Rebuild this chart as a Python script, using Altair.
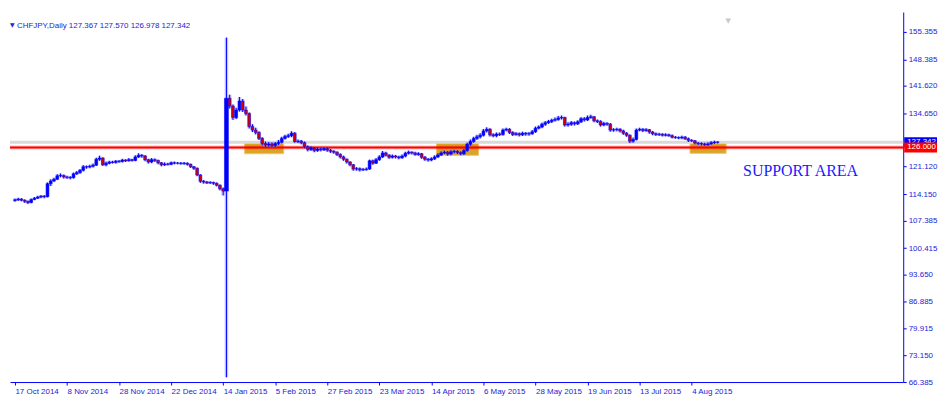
import altair as alt
import pandas as pd

# ---------------- data ----------------
closes = [
    112.7, 112.9, 112.6, 112.3, 112.0, 112.8, 113.1, 113.4, 113.6, 113.5,
    116.8, 117.5, 117.9, 118.8, 118.9, 118.5, 118.4, 118.3, 119.3, 119.6,
    120.2, 121.1, 121.0, 121.2, 121.5, 123.0, 123.3, 121.6, 122.0, 122.3,
    122.2, 122.5, 122.4, 122.8, 122.6, 122.9, 122.7, 123.6, 124.0, 123.8,
    122.9, 122.3, 122.9, 122.7, 122.1, 121.6, 121.8, 121.7, 122.1, 122.0,
    122.0, 121.9, 122.0, 121.7, 121.1, 120.7, 119.0, 117.4, 117.2, 117.0,
    117.1, 116.9, 116.4, 115.5, 114.9, 138.5, 136.5, 133.6, 135.5, 137.8,
    135.5, 134.6, 131.3, 130.4, 129.8, 128.3, 127.0, 126.6, 126.9, 126.5,
    127.0, 127.3, 128.3, 128.8, 129.0, 129.6, 127.5, 127.6, 127.2, 126.2,
    125.5, 125.9, 125.2, 125.6, 125.4, 125.7, 125.3, 125.0, 124.8, 124.2,
    123.6, 123.0, 122.3, 121.6, 120.5, 120.6, 120.3, 120.4, 120.5, 122.6,
    122.0, 122.9, 123.6, 124.6, 124.0, 123.5, 123.8, 123.6, 123.4, 123.8,
    124.5, 124.8, 124.6, 124.2, 124.4, 123.5, 123.0, 122.8, 123.1, 123.6,
    124.1, 124.6, 124.8, 124.3, 124.9, 125.0, 124.7, 124.4, 125.2, 126.8,
    127.5, 128.3, 128.7, 129.1, 130.2, 130.6, 129.2, 129.0, 129.4, 129.3,
    130.4, 130.6, 129.8, 129.3, 129.5, 129.2, 129.6, 129.4, 129.5, 130.0,
    130.9, 131.2, 131.9, 132.3, 132.6, 132.9, 133.1, 133.5, 133.6, 131.7,
    131.9, 132.3, 132.0, 132.5, 133.3, 133.0, 133.6, 133.8, 132.8, 132.6,
    131.7, 132.1, 131.9, 130.4, 130.5, 130.6, 130.2, 129.6, 129.1, 127.6,
    128.0, 130.4, 130.6, 130.3, 130.5, 129.9, 129.5, 129.3, 129.35, 129.1,
    129.2, 129.0, 128.6, 128.5, 128.4, 128.6, 128.2, 127.8, 127.7, 127.1,
    127.0, 126.9, 126.7, 126.9, 127.2, 127.367, 127.342,
]
highs = [
    113.0, 113.2, 113.1, 112.8, 112.5, 113.0, 113.4, 113.7, 113.9, 113.9,
    117.1, 117.9, 118.3, 119.2, 119.4, 119.1, 118.8, 118.7, 119.6, 120.0,
    120.5, 121.5, 121.4, 121.6, 121.9, 123.4, 123.9, 123.5, 122.4, 122.6,
    122.6, 122.8, 122.8, 123.1, 123.0, 123.3, 123.1, 124.0, 124.5, 124.3,
    124.1, 123.1, 123.3, 123.2, 122.9, 122.3, 122.2, 122.1, 122.4, 122.4,
    122.3, 122.3, 122.3, 122.2, 121.9, 121.3, 120.9, 119.2, 117.7, 117.5,
    117.4, 117.3, 117.1, 116.6, 115.8, 153.9, 139.4, 136.9, 136.1, 138.8,
    138.3, 136.4, 134.9, 131.9, 131.0, 130.1, 128.6, 127.5, 127.4, 127.3,
    127.4, 127.9, 128.7, 129.2, 129.5, 130.1, 129.9, 128.0, 127.9, 127.5,
    126.5, 126.3, 126.1, 126.0, 125.9, 126.1, 126.0, 125.6, 125.3, 125.0,
    124.5, 123.9, 123.2, 122.5, 121.8, 121.0, 120.9, 120.8, 120.9, 122.9,
    122.9, 123.3, 124.0, 125.1, 124.9, 124.3, 124.2, 124.1, 123.9, 124.2,
    124.9, 125.2, 125.0, 124.9, 124.8, 124.6, 123.8, 123.3, 123.5, 124.0,
    124.5, 125.0, 125.2, 125.1, 125.3, 125.4, 125.3, 125.0, 125.6, 127.2,
    128.0, 128.7, 129.2, 129.6, 130.7, 131.1, 130.9, 129.6, 129.8, 129.8,
    130.8, 131.0, 130.9, 130.1, 129.9, 129.8, 130.0, 129.9, 129.9, 130.4,
    131.3, 131.6, 132.3, 132.7, 133.0, 133.3, 133.6, 134.0, 134.1, 133.8,
    132.4, 132.7, 132.6, 132.9, 133.7, 133.7, 134.1, 134.3, 134.0, 133.1,
    132.9, 132.5, 132.4, 132.2, 130.9, 131.0, 130.9, 130.5, 129.9, 129.3,
    128.5, 130.8, 131.0, 130.9, 130.9, 130.7, 130.2, 129.8, 129.7, 129.6,
    129.6, 129.5, 129.3, 128.9, 128.8, 129.0, 128.9, 128.5, 128.1, 127.9,
    127.4, 127.3, 127.2, 127.3, 127.6, 127.7, 127.57,
]
lows = [
    112.2, 112.4, 112.3, 111.9, 111.6, 111.8, 112.6, 112.9, 113.1, 113.1,
    113.3, 116.2, 117.2, 117.7, 118.4, 118.1, 118.0, 117.9, 118.1, 119.0,
    119.3, 119.9, 120.6, 120.7, 120.9, 121.3, 122.6, 121.3, 121.2, 121.7,
    121.9, 121.9, 122.1, 122.2, 122.3, 122.4, 122.4, 122.5, 123.3, 123.4,
    122.5, 121.9, 122.0, 122.3, 121.7, 121.2, 121.3, 121.4, 121.5, 121.7,
    121.7, 121.6, 121.6, 121.4, 120.8, 120.3, 118.7, 117.0, 116.8, 116.7,
    116.7, 116.5, 116.1, 115.1, 113.8, 67.6, 135.9, 133.0, 133.2, 135.1,
    135.0, 134.1, 130.8, 129.9, 129.3, 127.9, 126.5, 126.1, 126.2, 126.0,
    126.1, 126.6, 127.0, 128.0, 128.4, 128.6, 127.2, 127.1, 126.8, 125.8,
    125.0, 125.1, 124.8, 124.9, 125.0, 125.1, 124.9, 124.6, 124.4, 123.8,
    123.2, 122.6, 121.9, 121.2, 120.1, 120.1, 119.9, 120.0, 120.1, 120.3,
    121.6, 121.8, 122.6, 123.3, 123.7, 123.1, 123.2, 123.2, 123.0, 123.1,
    123.5, 124.2, 124.2, 123.9, 123.9, 123.1, 122.6, 122.4, 122.5, 122.8,
    123.3, 123.8, 124.3, 123.9, 124.0, 124.5, 124.3, 124.0, 124.1, 124.9,
    126.4, 127.2, 127.9, 128.3, 128.8, 129.8, 128.8, 128.6, 128.6, 128.9,
    129.0, 130.1, 129.4, 128.9, 129.0, 128.8, 128.9, 129.0, 129.0, 129.2,
    129.7, 130.6, 130.9, 131.5, 132.0, 132.2, 132.6, 132.8, 133.1, 131.3,
    131.3, 131.5, 131.6, 131.7, 132.2, 132.6, 132.7, 133.3, 132.4, 132.2,
    131.3, 131.4, 131.5, 130.0, 130.0, 130.1, 129.8, 129.2, 128.7, 127.1,
    127.2, 127.8, 130.1, 129.9, 130.0, 129.5, 129.1, 128.9, 128.9, 128.8,
    128.8, 128.7, 128.3, 128.2, 128.1, 128.1, 127.9, 127.4, 127.4, 126.8,
    126.6, 126.5, 126.4, 126.4, 126.7, 126.9, 126.978,
]
first_open = 112.5

date_labels = ["17 Oct 2014", "8 Nov 2014", "28 Nov 2014", "22 Dec 2014",
               "14 Jan 2015", "5 Feb 2015", "27 Feb 2015", "23 Mar 2015",
               "14 Apr 2015", "6 May 2015", "28 May 2015", "19 Jun 2015",
               "13 Jul 2015", "4 Aug 2015"]
date_label_bars = [0, 16, 32, 48, 64, 80, 96, 112, 128, 144, 160, 176, 192, 208]

price_ticks = [155.355, 148.385, 141.620, 134.650, 121.120, 114.150, 107.385,
               100.415, 93.650, 86.885, 79.915, 73.150, 66.385]

zone_start = [70.6, 129.6, 207.5]
zone_end = [82.6, 142.5, 218.6]
zone_top = [127.1, 127.1, 127.1]
zone_bottom = [124.4, 124.0, 124.5]

bid_level = 127.342
support_level = 126.000
title_text = "CHFJPY,Daily  127.367 127.570 126.978 127.342"
annotation = "SUPPORT AREA"

# ---------------- build tables ----------------
opens = [first_open] + closes[:-1]
candles = pd.DataFrame({
    "idx": list(range(len(closes))),
    "open": opens, "high": highs, "low": lows, "close": closes,
})
zones = pd.DataFrame({"x0": zone_start, "x1": zone_end,
                      "top": zone_top, "bot": zone_bottom})

BLUE = "#0000ff"
RED = "#d00000"
TXT = "#2424d6"
FONT = "Liberation Sans"

W, H = 898, 372
xscale = alt.Scale(domain=[0, 271.5], nice=False, zero=False)
yscale = alt.Scale(domain=[66.385, 160.41], nice=False, zero=False)

label_js = "[" + ",".join("'" + s + "'" for s in date_labels) + "][round(datum.value/16)]"
xaxis = alt.Axis(values=date_label_bars, labelExpr=label_js, title=None,
                 orient="bottom", grid=False, domainColor=BLUE, tickColor=BLUE,
                 tickSize=3, labelAlign="left", labelColor=TXT, labelFont=FONT,
                 labelFontSize=8, labelPadding=3, labelFlush=False,
                 labelOverlap=False, labelBound=False)
yaxis = alt.Axis(values=price_ticks, format=".3f", title=None, orient="right",
                 grid=False, domainColor=BLUE, tickColor=BLUE, tickSize=3,
                 labelColor=TXT, labelFont=FONT, labelFontSize=8,
                 labelPadding=2, labelOverlap=False, labelFlush=False)


def X(field):
    return alt.X(field, type="quantitative", scale=xscale, axis=xaxis)


def Y(field):
    return alt.Y(field, type="quantitative", scale=yscale, axis=yaxis)


zone_layer = alt.Chart(zones).mark_rect(
    color="#D9A01C", stroke="#F0C45A", strokeWidth=1, opacity=0.95
).encode(x=X("x0"), x2="x1", y=Y("top"), y2="bot")

bid_line = alt.Chart(pd.DataFrame({"v": [bid_level]})).mark_rule(
    color="#d9d9d9", strokeWidth=3
).encode(y=Y("v"))

support_halo = alt.Chart(pd.DataFrame({"v": [support_level]})).mark_rule(
    color="#ff0000", strokeWidth=4, opacity=0.25
).encode(y=Y("v"))
support_line = alt.Chart(pd.DataFrame({"v": [support_level]})).mark_rule(
    color="#ff0000", strokeWidth=2
).encode(y=Y("v"))

wick_halo = alt.Chart(candles).mark_rule(
    color="#7a7aff", strokeWidth=3.5, opacity=0.45, clip=True
).encode(x=X("idx"), y=Y("low"), y2="high")

wicks = alt.Chart(candles).mark_rule(color=BLUE, strokeWidth=1, clip=True).encode(
    x=X("idx"), y=Y("low"), y2="high")

bodies = alt.Chart(candles).mark_bar(stroke=BLUE, strokeWidth=0.5, clip=True).encode(
    x=X("idx"), y=Y("open"), y2="close",
    color=alt.condition("datum.close >= datum.open", alt.value(BLUE), alt.value(RED)),
    size=alt.condition("datum.idx == 65", alt.value(4), alt.value(2.8)),
)

bid_tag = pd.DataFrame({"v": [bid_level], "t": ["127.342"]})
sup_tag = pd.DataFrame({"v": [support_level], "t": ["126.000"]})
bid_bg = alt.Chart(bid_tag).mark_rule(strokeWidth=10, strokeCap="butt", color="#0000ff").encode(
    x=alt.value(W + 1), x2=alt.value(W + 34), y=Y("v"))
bid_txt = alt.Chart(bid_tag).mark_text(
    color="white", font=FONT, fontSize=8, align="left", baseline="middle"
).encode(x=alt.value(W + 4), y=Y("v"), text="t:N")
sup_bg = alt.Chart(sup_tag).mark_rule(strokeWidth=10, strokeCap="butt", color="#ff0000").encode(
    x=alt.value(W + 1), x2=alt.value(W + 34), y=Y("v"))
sup_txt = alt.Chart(sup_tag).mark_text(
    color="white", font=FONT, fontSize=8, align="left", baseline="middle"
).encode(x=alt.value(W + 4), y=Y("v"), text="t:N")

title_layer = alt.Chart(pd.DataFrame({"t": [title_text]})).mark_text(
    color=TXT, font=FONT, fontSize=8, align="left", baseline="alphabetic"
).encode(x=alt.value(7), y=alt.value(16), text="t:N")
tri_layer = alt.Chart(pd.DataFrame({"t": ["▼"]})).mark_text(
    color=TXT, font="DejaVu Sans", fontSize=6, align="left", baseline="alphabetic"
).encode(x=alt.value(0), y=alt.value(15), text="t:N")
shift_marker = alt.Chart(pd.DataFrame({"t": ["▼"]})).mark_text(
    color="#c8c8c8", font="DejaVu Sans", fontSize=7, align="center", baseline="middle"
).encode(x=alt.value(722), y=alt.value(9), text="t:N")
support_text = alt.Chart(pd.DataFrame({"t": [annotation]})).mark_text(
    color="#1a1aff", font="Liberation Serif", fontSize=16, align="left",
    baseline="alphabetic"
).encode(x=alt.value(737), y=alt.value(165), text="t:N")

chart = alt.layer(
    zone_layer, bid_line, support_halo, support_line, wick_halo, wicks, bodies,
    bid_bg, bid_txt, sup_bg, sup_txt,
    title_layer, tri_layer, shift_marker, support_text
).properties(
    width=W, height=H,
    padding={"left": 0, "top": 3, "right": 0, "bottom": 0},
    background="white",
).configure_view(stroke=None)

chart.save("out.html", embed_options={"renderer": "svg", "actions": False})
